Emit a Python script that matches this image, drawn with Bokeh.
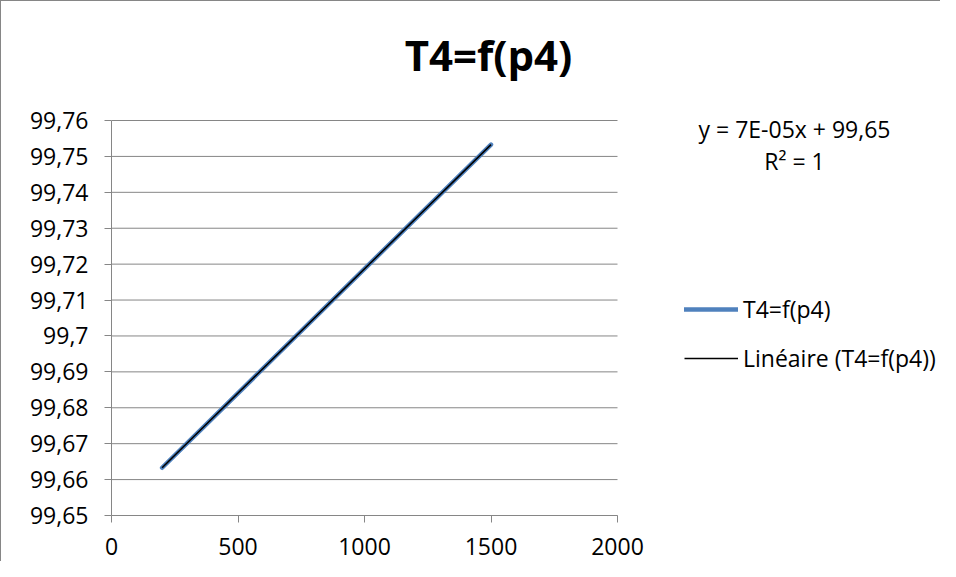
import numpy as np
from bokeh.plotting import figure
from bokeh.models import (Range1d, FixedTicker, CustomJSTickFormatter, Legend,
                          LegendItem, Label)
from bokeh.embed import file_html
from bokeh.resources import INLINE

# ---- data ----
p4 = [200, 1500]
T4 = [99.6633, 99.7533]
x_ticks = [0, 500, 1000, 1500, 2000]
y_ticks = [99.65, 99.66, 99.67, 99.68, 99.69, 99.70, 99.71, 99.72, 99.73, 99.74, 99.75, 99.76]
title_text = "T4=f(p4)"
series_name = "T4=f(p4)"
trend_name = "Linéaire (T4=f(p4))"
eq_text = "y = 7E-05x + 99,65"
r2_text = "R² = 1"

FONT = "Open Sans"
GREY = "#868686"
FS = "23px"

X_AX = (0, 2000)
Y_AX = (99.65, 99.76)
# frame spans the whole chart area so texts outside the axes box are not clipped
PX_X = (X_AX[1] - X_AX[0]) / 506.0
PX_Y = (Y_AX[1] - Y_AX[0]) / 395.0

p = figure(width=940, height=561, output_backend="svg", toolbar_location=None,
           x_range=Range1d(X_AX[0], X_AX[0] + 830 * PX_X),
           y_range=Range1d(Y_AX[0], Y_AX[0] + 514 * PX_Y),
           min_border_left=110, min_border_right=0, min_border_top=0,
           min_border_bottom=47)
p.outline_line_color = None
p.styles = {"border-left": "1px solid #868686", "border-top": "1px solid #868686"}

p.xgrid.visible = False
p.ygrid.visible = False
# horizontal gridlines limited to the axis extent
p.segment(x0=[X_AX[0]] * len(y_ticks), x1=[X_AX[1]] * len(y_ticks),
          y0=y_ticks, y1=y_ticks, line_color=GREY, line_width=1, level="underlay")

for ax in (p.xaxis, p.yaxis):
    ax.axis_line_color = GREY
    ax.major_tick_line_color = GREY
    ax.major_tick_in = 0
    ax.major_tick_out = 7
    ax.minor_tick_line_color = None
    ax.major_label_text_font = FONT
    ax.major_label_text_font_size = FS
    ax.major_label_text_color = "black"

p.xaxis.bounds = X_AX
p.yaxis.bounds = Y_AX
p.xaxis.ticker = FixedTicker(ticks=x_ticks)
p.yaxis.ticker = FixedTicker(ticks=y_ticks)
p.xaxis.major_label_standoff = 15
p.yaxis.major_label_standoff = 16
p.yaxis.formatter = CustomJSTickFormatter(code="""
    let s = tick.toFixed(2);
    s = s.replace(/0+$/, '').replace(/\\.$/, '');
    return s.replace('.', ',');
""")

# series
r_series = p.line(p4, T4, line_color="#4F81BD", line_width=4.5, line_cap="round")

# linear trendline computed from data
coef = np.polyfit(p4, T4, 1)
tx = [min(p4), max(p4)]
ty = [coef[0] * v + coef[1] for v in tx]
r_trend = p.line(tx, ty, line_color="black", line_width=1.6)

legend = Legend(items=[LegendItem(label=series_name, renderers=[r_series]),
                       LegendItem(label=trend_name, renderers=[r_trend])],
                location=(573, 141), orientation="vertical")
legend.border_line_color = None
legend.background_fill_alpha = 0
legend.padding = 0
legend.margin = 0
legend.spacing = 17
legend.glyph_width = 54
legend.glyph_height = 24
legend.label_height = 24
legend.label_standoff = 5
legend.label_text_font = FONT
legend.label_text_font_size = FS
legend.label_text_color = "black"
p.add_layout(legend, "center")

# title
p.add_layout(Label(x=X_AX[0] + 377 * PX_X, y=Y_AX[0] + 461 * PX_Y, text=title_text,
                   text_align="center", text_baseline="alphabetic", text_font=FONT,
                   text_font_style="bold", text_font_size="42px", text_color="black"))

# trendline equation
p.add_layout(Label(x=X_AX[0] + 683 * PX_X, y=Y_AX[0] + 387 * PX_Y, text=eq_text,
                   text_align="center", text_baseline="middle", text_font=FONT,
                   text_font_size=FS, text_color="black"))
p.add_layout(Label(x=X_AX[0] + 683 * PX_X, y=Y_AX[0] + 355 * PX_Y, text=r2_text,
                   text_align="center", text_baseline="middle", text_font=FONT,
                   text_font_size=FS, text_color="black"))

open("out.html", "w").write(file_html(p, INLINE))
